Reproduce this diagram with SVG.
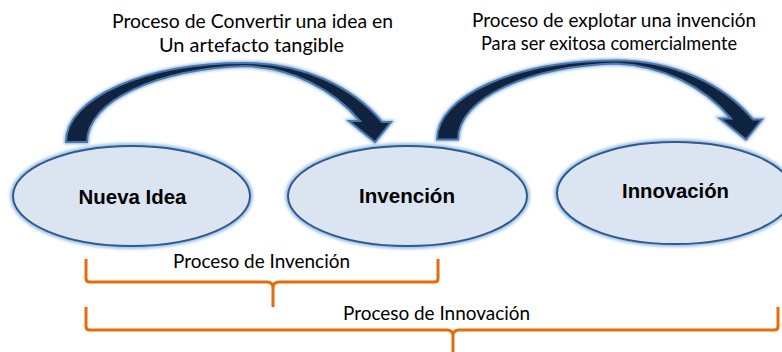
<svg xmlns="http://www.w3.org/2000/svg" width="782" height="352" viewBox="0 0 782 352">
  <defs>
    <filter id="glow" x="-20%" y="-30%" width="140%" height="160%">
      <feGaussianBlur stdDeviation="1.8"/>
    </filter>
    <path id="curvedArrow" d="M66,142 C66,98 145,63 245,63 C302,63 352,86 382,122 L391,122 L375,142 L349,121 L360,121 C333,89 292,68 245,66 C158,69 87,100 87,142 Z"/>
  </defs>
  <style>
    .halo { fill: none; stroke: #9cc0e8; stroke-width: 6; }
    .node { fill: #dbe5f1; stroke: #2f5a8c; stroke-width: 2; }
    .nodeText { font-family: "Liberation Sans", Arial, sans-serif; font-weight: bold; font-size: 20px; fill: #000; text-anchor: middle; }
    .label { font-family: Lato, "Liberation Sans", sans-serif; font-size: 19px; fill: #000; }
    .arrowBody { fill: #10243f; stroke: #4a78ab; stroke-width: 2; stroke-linejoin: miter; }
    .arrowHalo { fill: none; stroke: #8fb3dc; stroke-width: 4; }
    .brace { fill: none; stroke: #e46c0a; stroke-width: 3; stroke-linecap: butt; stroke-linejoin: round; }
  </style>
  <rect width="782" height="352" fill="#ffffff"/>

  <g id="connectors">
    <g id="arrow-nueva-invencion">
      <use href="#curvedArrow" class="arrowHalo" filter="url(#glow)"/>
      <use href="#curvedArrow" class="arrowBody"/>
    </g>
    <g id="arrow-invencion-innovacion" transform="translate(371,-2.5)">
      <use href="#curvedArrow" class="arrowHalo" filter="url(#glow)"/>
      <use href="#curvedArrow" class="arrowBody"/>
    </g>
    <g id="brace-invencion">
      <path class="brace" d="M86,259 V278.5 Q86,282 89.5,282 H267 Q273,282 273,288 V307 M273,288 Q273,282 279,282 H434.5 Q438,282 438,278.5 V259"/>
    </g>
    <g id="brace-innovacion">
      <path class="brace" d="M86,307 V326.5 Q86,330 89.5,330 H447 Q453,330 453,336 V352 M453,336 Q453,330 459,330 H774.5 Q778,330 778,326.5 V307"/>
    </g>
  </g>

  <g id="node-nueva-idea">
    <ellipse class="halo" cx="131.5" cy="196" rx="118.5" ry="50" filter="url(#glow)"/>
    <ellipse class="node" cx="131.5" cy="196" rx="118.5" ry="50"/>
    <text class="nodeText" x="132.5" y="204" textLength="108" lengthAdjust="spacingAndGlyphs">Nueva Idea</text>
  </g>
  <g id="node-invencion">
    <ellipse class="halo" cx="407.5" cy="196" rx="119.5" ry="50" filter="url(#glow)"/>
    <ellipse class="node" cx="407.5" cy="196" rx="119.5" ry="50"/>
    <text class="nodeText" x="407" y="203" textLength="96" lengthAdjust="spacingAndGlyphs">Invención</text>
  </g>
  <g id="node-innovacion">
    <ellipse class="halo" cx="675" cy="193" rx="118" ry="51" filter="url(#glow)"/>
    <ellipse class="node" cx="675" cy="193" rx="118" ry="51"/>
    <text class="nodeText" x="675.5" y="198" textLength="107" lengthAdjust="spacingAndGlyphs">Innovación</text>
  </g>

  <g id="labels">
    <text class="label" x="112" y="28" textLength="281" lengthAdjust="spacingAndGlyphs">Proceso de Convertir una idea en</text>
    <text class="label" x="159" y="52" textLength="185" lengthAdjust="spacingAndGlyphs">Un artefacto tangible</text>
    <text class="label" x="472" y="27" textLength="284" lengthAdjust="spacingAndGlyphs">Proceso de explotar una invención</text>
    <text class="label" x="481" y="50" textLength="256" lengthAdjust="spacingAndGlyphs">Para ser exitosa comercialmente</text>
    <text class="label" x="173" y="268" textLength="177" lengthAdjust="spacingAndGlyphs">Proceso de Invención</text>
    <text class="label" x="343" y="320" textLength="187" lengthAdjust="spacingAndGlyphs">Proceso de Innovación</text>
  </g>
</svg>
